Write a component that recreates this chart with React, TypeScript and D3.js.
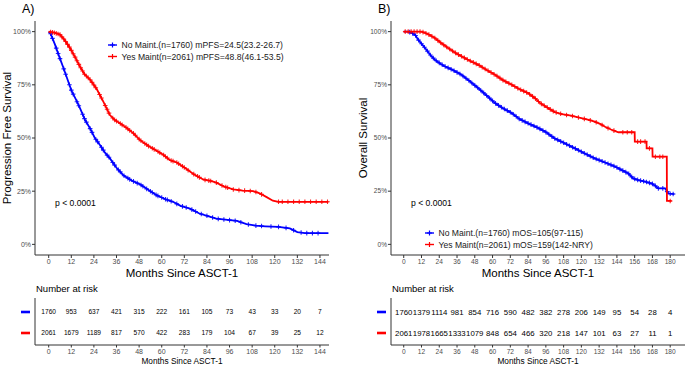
import * as React from 'react'
import * as d3 from 'd3'

const width = 685
const height = 365
const blue = '#0000ff'
const red = '#ff0000'
const font = 'Liberation Sans, Arial, sans-serif'
const grey = '#4d4d4d'

// A) progression free survival, No Maint.
const pfsNoMonths = [0, 1, 3.3, 5.5, 7.8, 10, 12.2, 14.5, 16.6, 19.3, 21.9, 24.5, 27.2, 30, 32.5, 36, 39.6, 44, 48.5, 53, 57.3, 62, 66, 70, 75, 80, 85, 89, 95, 100, 105, 110, 115, 122, 128, 132, 136, 148.5]
const pfsNoSurv = [1, 0.99, 0.94, 0.885, 0.83, 0.775, 0.72, 0.68, 0.64, 0.585, 0.546, 0.5, 0.467, 0.43, 0.404, 0.36, 0.325, 0.3, 0.282, 0.255, 0.231, 0.212, 0.2, 0.181, 0.168, 0.145, 0.132, 0.121, 0.115, 0.11, 0.095, 0.088, 0.085, 0.082, 0.075, 0.058, 0.053, 0.053]
const pfsNoCensor = [1, 2, 4, 5, 6, 8, 9, 11, 12, 13, 15, 16, 18, 19, 20, 22, 23, 25, 26, 28, 29, 31, 32, 34, 35, 37, 38, 40, 42, 43, 45, 47, 49, 50, 52, 54, 55, 57, 58, 60, 62, 63, 65, 68, 71, 73, 76, 78, 81, 84, 87, 90, 93, 96, 99, 102, 106, 110, 113, 118, 122, 126, 130, 134, 137, 140, 143]

// A) progression free survival, Yes Maint
const pfsYesMonths = [0, 3, 6, 8.5, 11.3, 14, 16.6, 19, 22, 25.5, 29, 32.5, 35, 37.8, 41, 45, 48.5, 53, 57.3, 61, 64.4, 68, 73, 77, 82, 86, 89, 93, 98, 103, 108.6, 112, 115.7, 119, 122, 148.5]
const pfsYesSurv = [1, 0.995, 0.986, 0.96, 0.923, 0.88, 0.836, 0.8, 0.774, 0.73, 0.671, 0.608, 0.585, 0.569, 0.55, 0.522, 0.49, 0.462, 0.44, 0.42, 0.396, 0.385, 0.355, 0.33, 0.305, 0.298, 0.29, 0.272, 0.258, 0.253, 0.25, 0.24, 0.222, 0.205, 0.2, 0.2]
const pfsYesCensor = [1, 2, 3, 4, 5, 6, 7, 8, 9, 10, 11, 12, 13, 14, 15, 16, 17, 18, 19, 20, 21, 22, 23, 24, 25, 27, 28, 30, 31, 32, 34, 35, 36, 38, 39, 41, 42, 43, 45, 46, 48, 49, 51, 52, 53, 55, 56, 58, 59, 61, 62, 63, 65, 66, 68, 69, 71, 72, 74, 77, 79, 80, 83, 85, 86, 89, 92, 94, 95, 98, 101, 104, 107, 110, 113, 122, 124, 127, 130, 133, 136, 139, 142, 145, 148]

// B) overall survival, No Maint.
const osNoMonths = [0, 3, 5, 7.6, 10, 14.4, 18, 21, 25, 28, 33, 39, 44, 50.4, 56, 61.7, 67, 73, 78, 84, 90, 95.5, 102, 109, 115.7, 122, 129, 136, 143, 147, 151.8, 155, 158.5, 163, 167.6, 170, 172, 176.6, 178.8, 182.8]
const osNoSurv = [1, 1, 0.995, 0.986, 0.96, 0.923, 0.89, 0.868, 0.848, 0.836, 0.82, 0.797, 0.77, 0.734, 0.7, 0.664, 0.64, 0.617, 0.59, 0.569, 0.55, 0.53, 0.498, 0.474, 0.451, 0.428, 0.404, 0.385, 0.365, 0.35, 0.333, 0.31, 0.302, 0.295, 0.286, 0.275, 0.263, 0.263, 0.239, 0.236]
const osNoCensor = [4, 6, 8, 10, 12, 14, 16, 18, 20, 22, 24, 26, 28, 30, 32, 34, 36, 38, 40, 42, 44, 46, 48, 50, 52, 54, 56, 58, 60, 62, 64, 66, 68, 70, 72, 74, 76, 78, 80, 82, 84, 86, 88, 90, 92, 94, 96, 98, 100, 102, 104, 106, 108, 110, 112, 114, 116, 118, 120, 122, 124, 126, 128, 130, 132, 134, 136, 138, 140, 142, 144, 146, 148, 150, 152, 154, 156, 158, 160, 162, 164, 166, 168, 170, 172, 175, 178, 180, 182]

// B) overall survival, Yes Maint
const osYesMonths = [0, 12, 16, 21, 25, 30, 35, 39, 45, 50.4, 56, 61.7, 67, 73, 78, 84, 88.7, 92, 97.7, 102, 106.8, 113, 120, 125, 129, 133, 136, 140, 145, 156, 156.1, 164, 164.1, 168, 168.1, 177.7, 177.8, 181]
const osYesSurv = [1, 1, 0.99, 0.97, 0.948, 0.923, 0.9, 0.884, 0.862, 0.844, 0.82, 0.797, 0.772, 0.75, 0.73, 0.711, 0.687, 0.665, 0.64, 0.622, 0.612, 0.605, 0.593, 0.585, 0.577, 0.565, 0.553, 0.54, 0.527, 0.527, 0.483, 0.483, 0.451, 0.451, 0.412, 0.412, 0.204, 0.204]
const osYesCensor = [1, 3, 5, 7, 9, 11, 13, 15, 17, 19, 21, 23, 25, 27, 29, 31, 33, 35, 37, 39, 41, 43, 45, 47, 49, 51, 53, 55, 57, 59, 61, 63, 65, 67, 69, 71, 73, 75, 77, 79, 81, 83, 85, 87, 89, 91, 93, 95, 97, 99, 101, 103, 106, 110, 114, 118, 122, 126, 130, 134, 138, 142, 148, 151, 154, 158, 160, 163, 166, 170, 173, 175, 180]

const ticksA = [0, 12, 24, 36, 48, 60, 72, 84, 96, 108, 120, 132, 144]
const ticksB = [0, 12, 24, 36, 48, 60, 72, 84, 96, 108, 120, 132, 144, 156, 168, 180]
const yTicks = [0, 0.25, 0.5, 0.75, 1]

const riskNoA = [1760, 953, 637, 421, 315, 222, 161, 105, 73, 43, 33, 20, 7]
const riskYesA = [2061, 1679, 1189, 817, 570, 422, 283, 179, 104, 67, 39, 25, 12]
const riskNoB = [1760, 1379, 1114, 981, 854, 716, 590, 482, 382, 278, 206, 149, 95, 54, 28, 4]
const riskYesB = [2061, 1978, 1665, 1333, 1079, 848, 654, 466, 320, 218, 147, 101, 63, 27, 11, 1]

const legendA = ['No Maint.(n=1760) mPFS=24.5(23.2-26.7)', 'Yes Maint(n=2061) mPFS=48.8(46.1-53.5)']
const legendB = ['No Maint.(n=1760) mOS=105(97-115)', 'Yes Maint(n=2061) mOS=159(142-NRY)']

const y = d3.scaleLinear().domain([-0.05, 1.05]).range([255, 21])

const Panel = ({ x0, x1, domain, ticks, curves, legend, legendAt, yTitle, label, risks, tickFont, riskFont }: any) => {
  const x = d3.scaleLinear().domain(domain).range([x0, x1])
  const line = d3
    .line<number[]>()
    .x(d => x(d[0]))
    .y(d => y(d[1]))
  const surv = (months: number[], s: number[], t: number) => {
    const i = d3.bisectRight(months, t)
    if (i <= 0) return s[0]
    if (i >= months.length) return s[s.length - 1]
    const f = (t - months[i - 1]) / (months[i] - months[i - 1])
    return s[i - 1] + f * (s[i] - s[i - 1])
  }
  const plus = (cx: number, cy: number, r: number) => `M${cx - r},${cy}h${2 * r}M${cx},${cy - r}v${2 * r}`

  return (
    <g fontFamily={font}>
      <text x={x0 - 13} y={13} fontSize={12.5}>{label}</text>
      {/* curves */}
      {curves.map((c: any, k: number) => (
        <g key={k} stroke={c.color} fill="none">
          <path d={line(c.months.map((m: number, i: number) => [m, c.surv[i]]))!} strokeWidth={1.8} />
          <path
            d={c.censor.map((t: number) => plus(x(t), y(surv(c.months, c.surv, t)), 2.3)).join('')}
            strokeWidth={1.1}
            strokeOpacity={0.85}
          />
        </g>
      ))}
      {/* axes */}
      <line x1={x0} x2={x0} y1={21} y2={255} stroke="#333" />
      <line x1={x0} x2={x1} y1={255} y2={255} stroke="#333" />
      {yTicks.map(t => (
        <g key={t}>
          <line x1={x0 - 3} x2={x0} y1={y(t)} y2={y(t)} stroke="#333" />
          <text x={x0 - 4} y={y(t)} dy="0.35em" textAnchor="end" fontSize={tickFont} fill={grey}>
            {`${t * 100}%`}
          </text>
        </g>
      ))}
      {ticks.map((t: number) => (
        <g key={t}>
          <line x1={x(t)} x2={x(t)} y1={255} y2={258} stroke="#333" />
          <text x={x(t)} y={262} dy="0.35em" textAnchor="middle" fontSize={tickFont} fill={grey}>
            {t}
          </text>
        </g>
      ))}
      <text x={(x0 + x1) / 2} y={273} dy="0.35em" textAnchor="middle" fontSize={11.5}>
        Months Since ASCT-1
      </text>
      <text transform={`translate(${x0 - 28},138) rotate(-90)`} textAnchor="middle" dy="0.35em" fontSize={11.5}>
        {yTitle}
      </text>
      <text x={x0 + 20} y={203} dy="0.35em" fontSize={8.6}>p &lt; 0.0001</text>
      {/* legend */}
      {legend.map((s: string, i: number) => {
        const ly = legendAt[1] + i * 11.5
        const c = curves[i].color
        return (
          <g key={i}>
            <line x1={legendAt[0]} x2={legendAt[0] + 9} y1={ly} y2={ly} stroke={c} strokeWidth={1.4} />
            <path d={plus(legendAt[0] + 4.5, ly, 2.5)} stroke={c} strokeWidth={1.2} />
            <text x={legendAt[0] + 13.5} y={ly} dy="0.35em" fontSize={8.6} fill="#1a1a1a">
              {s}
            </text>
          </g>
        )
      })}
      {/* risk table */}
      <text x={x0 + 1} y={289} dy="0.35em" fontSize={9.5}>Number at risk</text>
      <line x1={x0} x2={x0} y1={298} y2={345} stroke="#333" />
      <line x1={x0} x2={x1} y1={345} y2={345} stroke="#333" />
      {risks.map((r: number[], i: number) => {
        const ry = 312 + i * 21
        return (
          <g key={i}>
            <line x1={x0 - 14} x2={x0 - 5} y1={ry} y2={ry} stroke={curves[i].color} strokeWidth={2.6} />
            {r.map((v, j) => (
              <text key={j} x={x(ticks[j])} y={ry} dy="0.35em" textAnchor="middle" fontSize={riskFont}>
                {v}
              </text>
            ))}
          </g>
        )
      })}
      {ticks.map((t: number) => (
        <g key={t}>
          <line x1={x(t)} x2={x(t)} y1={345} y2={347.5} stroke="#333" />
          <text x={x(t)} y={352} dy="0.35em" textAnchor="middle" fontSize={tickFont} fill={grey}>
            {t}
          </text>
        </g>
      ))}
      <text x={(x0 + x1) / 2} y={361} dy="0.35em" textAnchor="middle" fontSize={8.3}>
        Months Since ASCT-1
      </text>
    </g>
  )
}

const App = () => (
  <svg width={width} height={height} style={{ position: 'absolute', left: 0, top: 0, background: '#fff' }}>
    <rect width={width} height={height} fill="#fff" />
    <Panel
      x0={35}
      x1={329}
      domain={[-7.27, 148.8]}
      ticks={ticksA}
      label="A)"
      yTitle="Progression Free Survival"
      legend={legendA}
      legendAt={[108, 45]}
      tickFont={7}
      riskFont={6.6}
      risks={[riskNoA, riskYesA]}
      curves={[
        { color: blue, months: pfsNoMonths, surv: pfsNoSurv, censor: pfsNoCensor },
        { color: red, months: pfsYesMonths, surv: pfsYesSurv, censor: pfsYesCensor },
      ]}
    />
    <Panel
      x0={391}
      x1={685}
      domain={[-8.6, 190]}
      ticks={ticksB}
      label="B)"
      yTitle="Overall Survival"
      legend={legendB}
      legendAt={[425, 233]}
      tickFont={6.6}
      riskFont={7.8}
      risks={[riskNoB, riskYesB]}
      curves={[
        { color: blue, months: osNoMonths, surv: osNoSurv, censor: osNoCensor },
        { color: red, months: osYesMonths, surv: osYesSurv, censor: osYesCensor },
      ]}
    />
  </svg>
)

export default App
